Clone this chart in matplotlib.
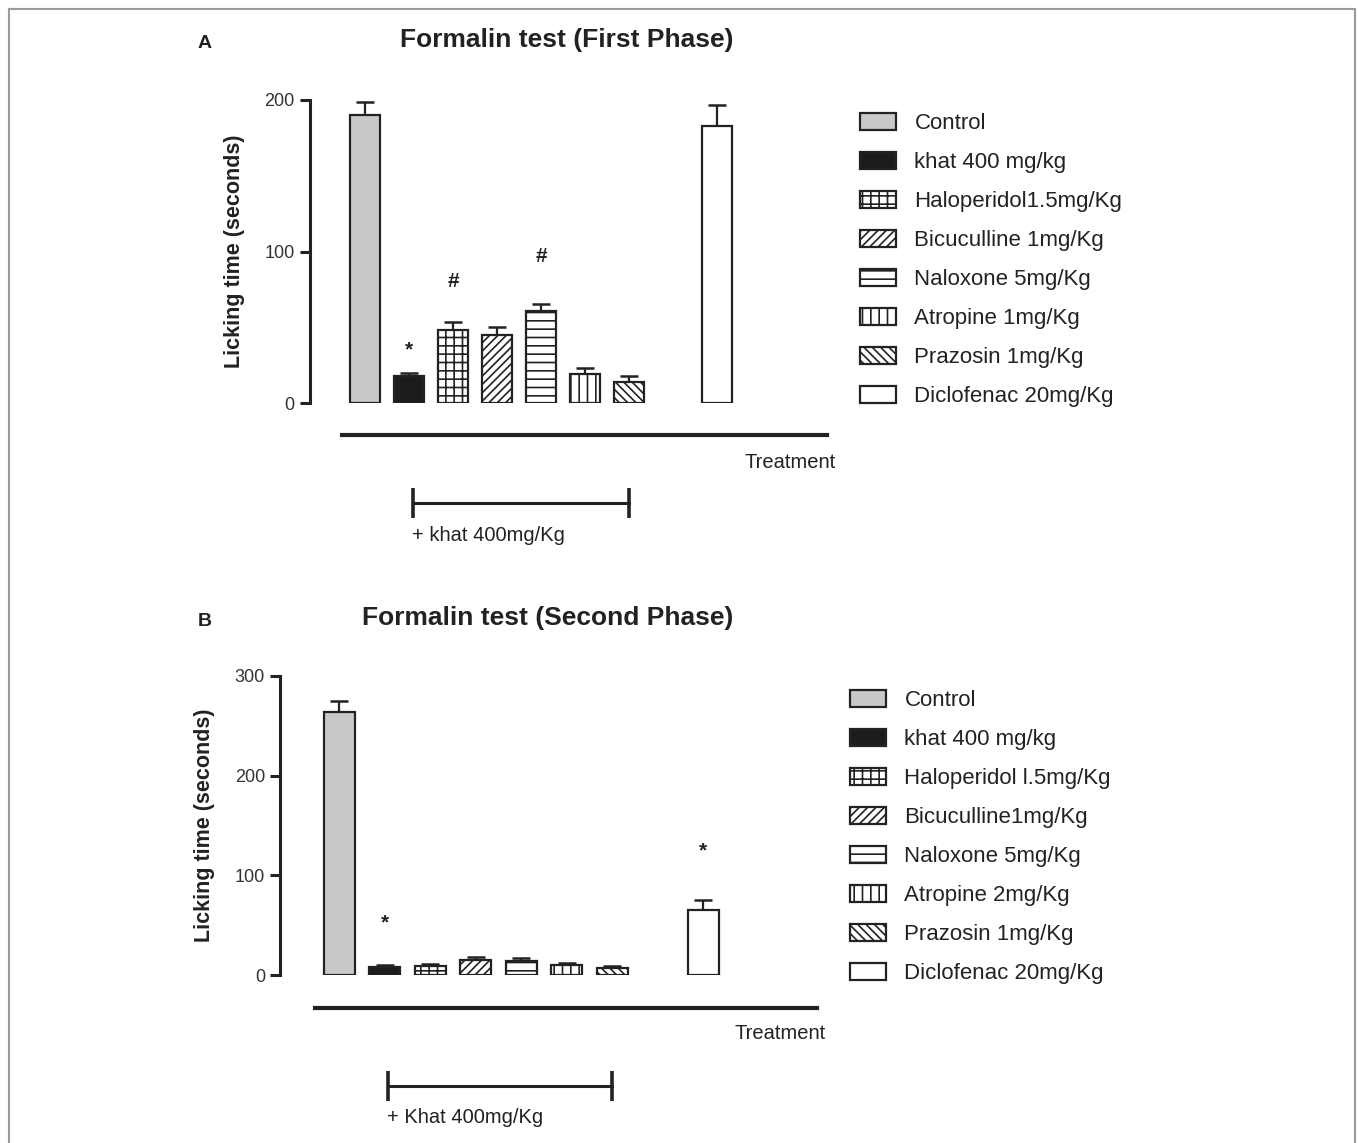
import matplotlib
matplotlib.use("Agg")
import matplotlib.pyplot as plt
import matplotlib.transforms as mtransforms
import numpy as np

plt.rcParams['font.family'] = ['Liberation Sans', 'DejaVu Sans']
plt.rcParams['hatch.linewidth'] = 1.2

# ---------------- data ----------------
x_pos = [0, 1, 2, 3, 4, 5, 6, 8]

labels_a = ["Control", "khat 400 mg/kg", "Haloperidol1.5mg/Kg", "Bicuculline 1mg/Kg",
            "Naloxone 5mg/Kg", "Atropine 1mg/Kg", "Prazosin 1mg/Kg", "Diclofenac 20mg/Kg"]
values_a = [190, 17.5, 48, 45, 61, 19, 14, 183]
errors_a = [9, 2.5, 5.5, 5, 4.5, 4, 3.5, 14]
marks_a = ["", "*", "#", "", "#", "", "", ""]
mark_y_a = [0, 35, 80, 0, 97, 0, 0, 0]

labels_b = ["Control", "khat 400 mg/kg", "Haloperidol l.5mg/Kg", "Bicuculline1mg/Kg",
            "Naloxone 5mg/Kg", "Atropine 2mg/Kg", "Prazosin 1mg/Kg", "Diclofenac 20mg/Kg"]
values_b = [264, 8.5, 9.5, 15.5, 14, 10, 7.5, 65]
errors_b = [10.5, 1.2, 2, 2.7, 3.5, 2, 1.4, 10.5]
marks_b = ["", "*", "", "", "", "", "", "*"]
mark_y_b = [0, 52, 0, 0, 0, 0, 0, 125]

yticks_a = [0, 100, 200]
yticks_b = [0, 100, 200, 300]

facecolors = ["#c8c9cb", "#1c1c1c", "white", "white", "white", "white", "white", "white"]
hatches = [None, None, "++", "////", "--", "||", "\\\\\\\\", None]

# ---------------- figure ----------------
W, H = 1358, 1143
fig = plt.figure(figsize=(W / 100, H / 100), dpi=100)


def px_axes(x0, x1, ytop, ybot):
    return fig.add_axes([x0 / W, 1 - ybot / H, (x1 - x0) / W, (ybot - ytop) / H])


# border
fig.add_artist(plt.Line2D([9 / W, 9 / W], [0, 1 - 9 / H], color="#9a9a9a", lw=1.5))
fig.add_artist(plt.Line2D([9 / W, 1355 / W], [1 - 9 / H, 1 - 9 / H], color="#9a9a9a", lw=1.5))
fig.add_artist(plt.Line2D([1355 / W, 1355 / W], [0, 1 - 9 / H], color="#9a9a9a", lw=1.5))


def panel(ax, values, errors, marks, mark_y, yticks, ymax, left_off, bottom_off,
          bracket_y, bracket_text, treat_y, label_pad):
    bars = ax.bar(x_pos, values, width=0.68, color=facecolors, edgecolor="#222222",
                  linewidth=1.6, zorder=3)
    for b, h in zip(bars, hatches):
        if h:
            b.set_hatch(h)
    ax.errorbar(x_pos, values, yerr=[np.zeros(len(values)), errors], fmt="none",
                ecolor="#222222", elinewidth=1.6, capsize=6.5, capthick=1.8, zorder=2)
    for xp, m, my in zip(x_pos, marks, mark_y):
        if m:
            ax.text(xp, my, m, ha="center", va="center", fontsize=15, fontweight="bold",
                    color="#222222")
    ax.set_xlim(-0.53, 10.5)
    ax.set_ylim(0, ymax)
    for s in ["top", "right"]:
        ax.spines[s].set_visible(False)
    ax.spines["left"].set_position(("outward", left_off))
    ax.spines["bottom"].set_position(("outward", bottom_off))
    ax.spines["left"].set_linewidth(2.2)
    ax.spines["bottom"].set_linewidth(3.0)
    ax.spines["left"].set_color("#222222")
    ax.spines["bottom"].set_color("#222222")
    ax.set_xticks([])
    ax.set_yticks(yticks)
    ax.set_yticklabels([str(t) for t in yticks])
    ax.tick_params(axis="y", length=7, width=2.2, color="#222222", labelsize=13,
                   labelcolor="#333333", pad=4)
    ax.set_ylabel("Licking time (seconds)", fontsize=15.5, fontweight="bold",
                  color="#222222", labelpad=label_pad)
    # bracket for khat-treated groups
    trans = mtransforms.blended_transform_factory(ax.transData, ax.transAxes)
    x1, x2 = x_pos[1], x_pos[6]
    ax.plot([x1 + 0.08, x2], [bracket_y, bracket_y], color="#222222", lw=2.2,
            transform=trans, clip_on=False)
    for xx in (x1 + 0.08, x2):
        ax.plot([xx, xx], [bracket_y - 0.05, bracket_y + 0.05], color="#222222", lw=2.6,
                transform=trans, clip_on=False, solid_capstyle="butt")
    ax.text(x1 + 0.06, bracket_y - 0.075, bracket_text, transform=trans, ha="left",
            va="top", fontsize=14.5, color="#222222")
    ax.text(10.7, treat_y, "Treatment", transform=trans,
            ha="right", va="top", fontsize=14.5, color="#222222")
    return bars


leg_kw = dict(loc="upper left", frameon=False, fontsize=16, handlelength=1.6,
              handleheight=0.8, handletextpad=0.85, labelspacing=0.8, borderpad=0,
              borderaxespad=0, labelcolor="#222222")

# Panel A
axA = px_axes(342, 827, 100, 403)
barsA = panel(axA, values_a, errors_a, marks_a, mark_y_a, yticks_a, 200,
              23, 23, -0.33, "+ khat 400mg/Kg", -0.165, 14)
fig.text(205 / W, 1 - 44 / H, "A", fontsize=14, fontweight="bold", ha="center",
         va="center", color="#222222")
fig.text(567 / W, 1 - 40 / H, "Formalin test (First Phase)", fontsize=19,
         fontweight="bold", ha="center", va="center", color="#222222")
fig.legend(barsA, labels_a, bbox_to_anchor=(860 / W, 1 - 113 / H), **leg_kw)

# Panel B
axB = px_axes(315, 817, 676, 975)
barsB = panel(axB, values_b, errors_b, marks_b, mark_y_b, yticks_b, 300,
              25, 24, -0.37, "+ Khat 400mg/Kg", -0.165, 14)
fig.text(205 / W, 1 - 622 / H, "B", fontsize=14, fontweight="bold", ha="center",
         va="center", color="#222222")
fig.text(548 / W, 1 - 618 / H, "Formalin test (Second Phase)", fontsize=19,
         fontweight="bold", ha="center", va="center", color="#222222")
fig.legend(barsB, labels_b, bbox_to_anchor=(850 / W, 1 - 690 / H), **leg_kw)

fig.savefig("out.png", dpi=100)
